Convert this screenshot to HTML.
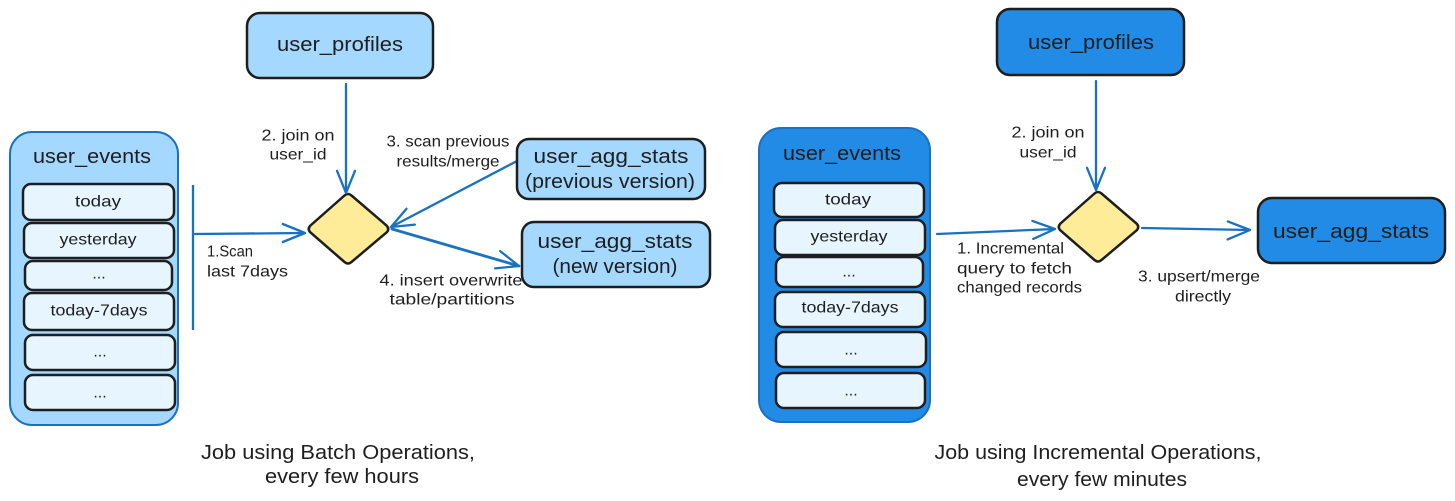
<!DOCTYPE html>
<html>
<head>
<meta charset="utf-8">
<style>
  html,body{margin:0;padding:0;background:#ffffff;}
  svg{display:block;}
  text{font-family:"Liberation Sans", sans-serif; fill:#1e1e1e;}
</style>
</head>
<body>
<svg width="1455" height="501" viewBox="0 0 1455 501" xmlns="http://www.w3.org/2000/svg">
  <rect x="0" y="0" width="1455" height="501" fill="#ffffff"/>

  <!-- ================= LEFT DIAGRAM ================= -->
  <rect x="247" y="13" width="186" height="65" rx="13" fill="#a5d8ff" stroke="#1e1e1e" stroke-width="2.5"/>
  <text x="340" y="45" font-size="20" text-anchor="middle" dominant-baseline="central" textLength="126" lengthAdjust="spacingAndGlyphs">user_profiles</text>

  <rect x="10" y="132" width="168" height="293" rx="22" fill="#a5d8ff" stroke="#1971c2" stroke-width="2"/>
  <text x="92" y="157" font-size="20" text-anchor="middle" dominant-baseline="central" textLength="118" lengthAdjust="spacingAndGlyphs">user_events</text>

  <g fill="#e7f5ff" stroke="#1e1e1e" stroke-width="2.5">
    <rect x="23" y="184" width="151" height="36" rx="8"/>
    <rect x="24" y="223" width="150" height="35" rx="8"/>
    <rect x="25" y="261" width="147" height="29" rx="8"/>
    <rect x="24" y="293" width="150" height="37" rx="8"/>
    <rect x="25" y="335" width="150" height="35" rx="8"/>
    <rect x="25" y="375" width="150" height="35" rx="8"/>
  </g>
  <g font-size="16" text-anchor="middle" dominant-baseline="central">
    <text x="98" y="202" textLength="46" lengthAdjust="spacingAndGlyphs">today</text>
    <text x="98" y="240" textLength="77" lengthAdjust="spacingAndGlyphs">yesterday</text>
    <text x="99" y="274">...</text>
    <text x="99" y="311" textLength="97" lengthAdjust="spacingAndGlyphs">today-7days</text>
    <text x="100" y="352">...</text>
    <text x="100" y="393">...</text>
  </g>

  <line x1="193" y1="185" x2="193" y2="330" stroke="#1971c2" stroke-width="2.3"/>

  <path d="M344.5,195.5 Q348,192.5 351.5,195.5 L386.5,225.5 Q390,229 386.5,232.5 L351.5,262 Q348,265 344.5,262 L310.5,232.5 Q307,229 310.5,225.5 Z" fill="#ffec99" stroke="#1e1e1e" stroke-width="2.5"/>

  <g stroke="#1971c2" stroke-width="2.3" fill="none" stroke-linecap="round" stroke-linejoin="round">
    <line x1="195" y1="234" x2="305" y2="233"/>
    <polyline points="282.8,224 305,233 282.8,242"/>
    <line x1="346" y1="84" x2="346" y2="193"/>
    <polyline points="337,170.8 346,193 355,170.8"/>
    <line x1="517" y1="161" x2="391" y2="227"/>
    <polyline points="414.9,224.6 391,227 406.5,208.7"/>
    <line x1="392" y1="229" x2="519" y2="266" stroke-width="2.8"/>
    <polyline points="500.2,251.1 519,266 495.1,268.4"/>
  </g>

  <g font-size="16" dominant-baseline="central">
    <text x="298" y="136" text-anchor="middle" textLength="73" lengthAdjust="spacingAndGlyphs">2. join on</text>
    <text x="298" y="155" text-anchor="middle" textLength="57" lengthAdjust="spacingAndGlyphs">user_id</text>
    <text x="448" y="142" text-anchor="middle" textLength="123" lengthAdjust="spacingAndGlyphs">3. scan previous</text>
    <text x="448" y="162" text-anchor="middle" textLength="103" lengthAdjust="spacingAndGlyphs">results/merge</text>
    <text x="207" y="252" textLength="46" lengthAdjust="spacingAndGlyphs">1.Scan</text>
    <text x="207" y="272" textLength="81" lengthAdjust="spacingAndGlyphs">last 7days</text>
    <text x="451" y="281" text-anchor="middle" textLength="143" lengthAdjust="spacingAndGlyphs">4. insert overwrite</text>
    <text x="452" y="300" text-anchor="middle" textLength="125" lengthAdjust="spacingAndGlyphs">table/partitions</text>
  </g>

  <rect x="517" y="139" width="188" height="60" rx="12" fill="#a5d8ff" stroke="#1e1e1e" stroke-width="2.5"/>
  <text x="611" y="157" font-size="20" text-anchor="middle" dominant-baseline="central" textLength="155" lengthAdjust="spacingAndGlyphs">user_agg_stats</text>
  <text x="610" y="182" font-size="20" text-anchor="middle" dominant-baseline="central" textLength="170" lengthAdjust="spacingAndGlyphs">(previous version)</text>

  <rect x="522" y="222" width="188" height="65" rx="12" fill="#a5d8ff" stroke="#1e1e1e" stroke-width="2.5"/>
  <text x="615" y="242" font-size="20" text-anchor="middle" dominant-baseline="central" textLength="155" lengthAdjust="spacingAndGlyphs">user_agg_stats</text>
  <text x="615" y="267" font-size="20" text-anchor="middle" dominant-baseline="central" textLength="125" lengthAdjust="spacingAndGlyphs">(new version)</text>

  <text x="338" y="453" font-size="20" text-anchor="middle" dominant-baseline="central" textLength="274" lengthAdjust="spacingAndGlyphs">Job using Batch Operations,</text>
  <text x="342" y="477" font-size="20" text-anchor="middle" dominant-baseline="central" textLength="154" lengthAdjust="spacingAndGlyphs">every few hours</text>

  <!-- ================= RIGHT DIAGRAM ================= -->
  <rect x="997" y="9" width="187" height="66" rx="13" fill="#228be6" stroke="#1e1e1e" stroke-width="2.5"/>
  <text x="1091" y="43" font-size="20" text-anchor="middle" dominant-baseline="central" textLength="126" lengthAdjust="spacingAndGlyphs">user_profiles</text>

  <rect x="759" y="128" width="171" height="294" rx="22" fill="#228be6" stroke="#1971c2" stroke-width="2"/>
  <text x="842" y="154" font-size="20" text-anchor="middle" dominant-baseline="central" textLength="118" lengthAdjust="spacingAndGlyphs">user_events</text>

  <g fill="#e7f5ff" stroke="#1e1e1e" stroke-width="2.5">
    <rect x="774" y="183" width="150" height="34" rx="8"/>
    <rect x="775" y="220" width="150" height="35" rx="8"/>
    <rect x="776" y="257" width="147" height="30" rx="8"/>
    <rect x="775" y="292" width="150" height="35" rx="8"/>
    <rect x="776" y="332" width="150" height="35" rx="8"/>
    <rect x="776" y="373" width="149" height="35" rx="8"/>
  </g>
  <g font-size="16" text-anchor="middle" dominant-baseline="central">
    <text x="848" y="200" textLength="46" lengthAdjust="spacingAndGlyphs">today</text>
    <text x="849" y="237" textLength="77" lengthAdjust="spacingAndGlyphs">yesterday</text>
    <text x="849" y="272">...</text>
    <text x="850" y="308" textLength="97" lengthAdjust="spacingAndGlyphs">today-7days</text>
    <text x="851" y="350">...</text>
    <text x="851" y="391">...</text>
  </g>

  <path d="M1094.5,193.5 Q1098,190.5 1101.5,193.5 L1136.5,223.5 Q1140,227 1136.5,230.5 L1101.5,260 Q1098,263 1094.5,260 L1060.5,230.5 Q1057,227 1060.5,223.5 Z" fill="#ffec99" stroke="#1e1e1e" stroke-width="2.5"/>

  <g stroke="#1971c2" stroke-width="2.3" fill="none" stroke-linecap="round" stroke-linejoin="round">
    <line x1="937" y1="234" x2="1055" y2="229"/>
    <polyline points="1032.4,220.9 1055,229 1033.2,238.9"/>
    <line x1="1096" y1="81" x2="1096" y2="190"/>
    <polyline points="1087,167.8 1096,190 1105,167.8"/>
    <line x1="1142" y1="228" x2="1250" y2="230"/>
    <polyline points="1227.8,221.4 1250,230 1227.6,239.4"/>
  </g>

  <g font-size="16" dominant-baseline="central">
    <text x="1048" y="133" text-anchor="middle" textLength="73" lengthAdjust="spacingAndGlyphs">2. join on</text>
    <text x="1048" y="153" text-anchor="middle" textLength="57" lengthAdjust="spacingAndGlyphs">user_id</text>
    <text x="957" y="249" textLength="107" lengthAdjust="spacingAndGlyphs">1. Incremental</text>
    <text x="957" y="269" textLength="115" lengthAdjust="spacingAndGlyphs">query to fetch</text>
    <text x="957" y="288" textLength="125" lengthAdjust="spacingAndGlyphs">changed records</text>
    <text x="1199" y="277" text-anchor="middle" textLength="122" lengthAdjust="spacingAndGlyphs">3. upsert/merge</text>
    <text x="1203" y="297" text-anchor="middle" textLength="56" lengthAdjust="spacingAndGlyphs">directly</text>
  </g>

  <rect x="1258" y="198" width="187" height="65" rx="14" fill="#228be6" stroke="#1e1e1e" stroke-width="2.5"/>
  <text x="1351" y="232" font-size="20" text-anchor="middle" dominant-baseline="central" textLength="156" lengthAdjust="spacingAndGlyphs">user_agg_stats</text>

  <text x="1098" y="453" font-size="20" text-anchor="middle" dominant-baseline="central" textLength="327" lengthAdjust="spacingAndGlyphs">Job using Incremental Operations,</text>
  <text x="1102" y="480" font-size="20" text-anchor="middle" dominant-baseline="central" textLength="170" lengthAdjust="spacingAndGlyphs">every few minutes</text>
</svg>
</body>
</html>
